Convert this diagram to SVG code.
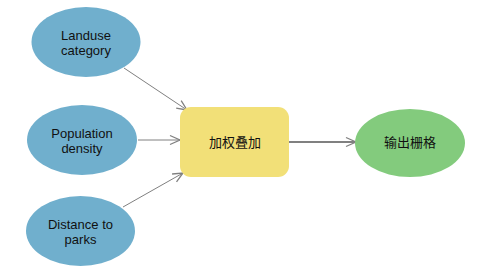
<svg xmlns="http://www.w3.org/2000/svg" width="481" height="276" viewBox="0 0 481 276">
<defs>
<style>
.in{fill:#70AFCD;}
.tool{fill:#F2E078;}
.out{fill:#83CB7D;}
.t{font-family:"Liberation Sans",Arial,sans-serif;font-size:13px;fill:#111;text-anchor:middle;}
.c{font-family:"Noto Sans CJK SC","Liberation Sans",sans-serif;font-size:13px;fill:#111;text-anchor:middle;}
.ln{stroke:#808080;stroke-width:1;fill:none;marker-end:url(#ah);}
.ln2{stroke:#808080;stroke-width:2;fill:none;marker-end:url(#ah);}
</style>
<marker id="ah" markerUnits="userSpaceOnUse" markerWidth="12" markerHeight="12" viewBox="0 0 12 12" refX="11" refY="6" orient="auto">
<path d="M1,1.5 L11,6 L1,10.5" stroke="#808080" stroke-width="1.3" fill="none"/>
</marker>
</defs>
<g id="connectors">
<line class="ln" x1="124" y1="68" x2="187" y2="110"/>
<line class="ln" x1="138" y1="140" x2="180" y2="140"/>
<line class="ln" x1="123" y1="207" x2="183" y2="173"/>
<line class="ln2" x1="289" y1="142" x2="356" y2="142"/>
</g>
<g id="landuse">
<ellipse class="in" cx="86" cy="42" rx="54.5" ry="35"/>
<text class="t" x="86" y="40">Landuse</text>
<text class="t" x="86" y="55">category</text>
</g>
<g id="population">
<ellipse class="in" cx="82" cy="140" rx="55" ry="35"/>
<text class="t" x="82" y="138">Population</text>
<text class="t" x="82" y="153">density</text>
</g>
<g id="distance">
<ellipse class="in" cx="80.5" cy="231" rx="54.5" ry="35"/>
<text class="t" x="80.5" y="229">Distance to</text>
<text class="t" x="80.5" y="244">parks</text>
</g>
<g id="weighted">
<rect class="tool" x="180" y="107" width="109" height="70" rx="11" ry="11"/>
<text class="c" x="235" y="147">加权叠加</text>
</g>
<g id="output">
<ellipse class="out" cx="410" cy="143" rx="55" ry="34"/>
<text class="c" x="410" y="147">输出栅格</text>
</g>
</svg>
